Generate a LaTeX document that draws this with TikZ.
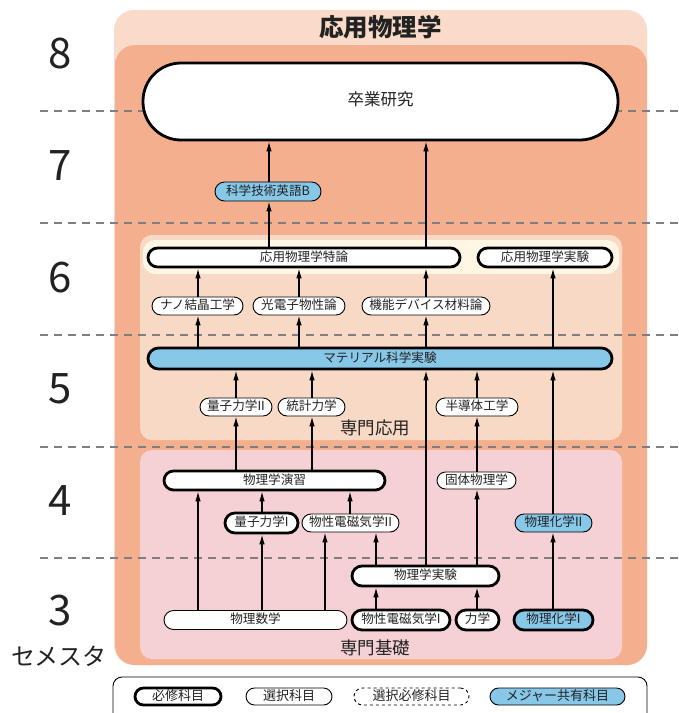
\documentclass[tikz,border=0pt]{standalone}
\usepackage{fontspec}
\setmainfont{Noto Sans CJK JP}
\usetikzlibrary{arrows.meta}
\definecolor{outerbg}{HTML}{FADAC8}
\definecolor{salmon}{HTML}{F4B08E}
\definecolor{applbg}{HTML}{F8D9C5}
\definecolor{creambg}{HTML}{FFF7E4}
\definecolor{basebg}{HTML}{F5D0D5}
\definecolor{sharedblue}{HTML}{87C7E8}
\definecolor{semgray}{HTML}{7F7F7F}
\definecolor{ink}{HTML}{222222}
\tikzset{
  course/.style={draw=black, rectangle, inner sep=0pt, fill=white, text=ink,
    font=\fontsize{12.6}{12.6}\selectfont, text height=0.75em, text depth=0.05em,
    minimum height=19pt, rounded corners=9.5pt},
  req/.style={course, line width=2.8pt},
  opt/.style={course, line width=0.9pt},
  shared/.style={fill=sharedblue},
  arr/.style={-{Latex[length=10pt,width=5.5pt]}, line width=1.2pt},
  semline/.style={draw=semgray, line width=1.8pt, dash pattern=on 8pt off 6pt},
  semnum/.style={font=\fontsize{42}{42}\selectfont, text=ink, inner sep=0pt},
  arealabel/.style={font=\fontsize{17.5}{17.5}\selectfont, text=ink, inner sep=0pt},
}
\begin{document}
\begin{tikzpicture}[x=1pt, y=-1pt]
\useasboundingbox (0,0) rectangle (679,713);
% backgrounds
\fill[outerbg, rounded corners=20pt] (114,10) rectangle (647,665);
\fill[salmon, rounded corners=20pt] (115,45) rectangle (647,665);
\fill[applbg, rounded corners=12pt] (140,235) rectangle (622,440);
\fill[creambg, rounded corners=12pt] (143,240) rectangle (619,274);
\fill[basebg, rounded corners=12pt] (140,450) rectangle (622,659);
\node[font=\fontsize{24.5}{24.5}\selectfont\bfseries, text=ink, inner sep=0pt] (title) at (380.5,27) {応用物理学};
\node[arealabel] (applab) at (375,428) {専門応用};
\node[arealabel] (baselab) at (375,648) {専門基礎};
% semester labels
\node[semnum] (s8) at (60,54) {8};
\node[semnum] (s7) at (60,166) {7};
\node[semnum] (s6) at (60,278) {6};
\node[semnum] (s5) at (60,389) {5};
\node[semnum] (s4) at (60,501) {4};
\node[semnum] (s3) at (60,611) {3};
\node[font=\fontsize{24}{24}\selectfont, text=ink, inner sep=0pt] (semlab) at (59,656) {セメスタ};
% semester dividers
\foreach \yy/\nm in {111/d1,223/d2,335/d3,447/d4,558/d5}{
  \coordinate (\nm a) at (40,\yy);
  \coordinate (\nm b) at (679,\yy);
  \draw[semline] (\nm a) -- (\nm b);
}
% column coordinates
\foreach \xx in {198,236,262,269,299,312,325,350,376,426,477,553}{
  \coordinate (x\xx) at (\xx,0);
}
% nodes
\node[req, minimum width=475pt, minimum height=77pt, rounded corners=38pt, font=\fontsize{16.5}{16.5}\selectfont] (sotsu) at (380.5,101.5) {卒業研究};
\node[opt, shared, minimum width=106pt] (eigo) at (268,191.5) {科学技術英語B};
\node[req, minimum width=312pt] (tokuron) at (304,257.5) {応用物理学特論};
\node[req, minimum width=134pt] (jikken6) at (545,257.5) {応用物理学実験};
\node[opt, minimum width=91pt, minimum height=18pt, rounded corners=9pt] (nano) at (197.5,306) {ナノ結晶工学};
\node[opt, minimum width=92pt, minimum height=18pt, rounded corners=9pt] (hikari) at (299,306) {光電子物性論};
\node[opt, minimum width=128pt, minimum height=18pt, rounded corners=9pt] (kinou) at (426,306) {機能デバイス材料論};
\node[req, shared, minimum width=464pt, minimum height=21pt, rounded corners=10.5pt] (material) at (380,358.5) {マテリアル科学実験};
\node[opt, minimum width=72pt, minimum height=18pt, rounded corners=9pt] (ryoshi2) at (236,407) {量子力学II};
\node[opt, minimum width=67pt, minimum height=18pt, rounded corners=9pt] (toukei) at (311.5,407) {統計力学};
\node[opt, minimum width=82pt, minimum height=18pt, rounded corners=9pt] (handou) at (477,407) {半導体工学};
\node[req, minimum width=221pt] (enshu) at (274.5,480.5) {物理学演習};
\node[opt, minimum width=79pt, minimum height=17pt, rounded corners=8.5pt] (kotai) at (476.5,480.5) {固体物理学};
\node[req, minimum width=73pt, minimum height=20pt, rounded corners=10pt] (ryoshi1) at (261.5,523) {量子力学I};
\node[opt, minimum width=97pt, minimum height=18pt, rounded corners=9pt] (denji2) at (350.5,523) {物性電磁気学II};
\node[opt, shared, minimum width=77pt, minimum height=18pt, rounded corners=9pt] (kagaku2) at (553.5,523) {物理化学II};
\node[req, minimum width=147pt, minimum height=20pt, rounded corners=10pt] (bjikken) at (425.5,576) {物理学実験};
\node[opt, minimum width=183pt] (suugaku) at (255.5,620) {物理数学};
\node[req, minimum width=98pt, minimum height=20pt, rounded corners=10pt] (denji1) at (401,620) {物性電磁気学I};
\node[req, minimum width=43pt, minimum height=20pt, rounded corners=10pt] (rikigaku) at (477.5,620) {力学};
\node[req, shared, minimum width=79pt, minimum height=20pt, rounded corners=10pt] (kagaku1) at (553.5,620) {物理化学I};
% arrows
\draw[arr] (eigo.north -| x269) -- (sotsu.south -| x269);
\draw[arr] (tokuron.north -| x269) -- (eigo.south -| x269);
\draw[arr] (tokuron.north -| x426) -- (sotsu.south -| x426);
\draw[arr] (nano.north -| x198) -- (tokuron.south -| x198);
\draw[arr] (hikari.north -| x299) -- (tokuron.south -| x299);
\draw[arr] (kinou.north -| x426) -- (tokuron.south -| x426);
\draw[arr] (material.north -| x198) -- (nano.south -| x198);
\draw[arr] (material.north -| x299) -- (hikari.south -| x299);
\draw[arr] (material.north -| x426) -- (kinou.south -| x426);
\draw[arr] (material.north -| x553) -- (jikken6.south -| x553);
\draw[arr] (ryoshi2.north -| x236) -- (material.south -| x236);
\draw[arr] (toukei.north -| x312) -- (material.south -| x312);
\draw[arr] (bjikken.north -| x426) -- (material.south -| x426);
\draw[arr] (handou.north -| x477) -- (material.south -| x477);
\draw[arr] (kagaku2.north -| x553) -- (material.south -| x553);
\draw[arr] (enshu.north -| x236) -- (ryoshi2.south -| x236);
\draw[arr] (enshu.north -| x312) -- (toukei.south -| x312);
\draw[arr] (kotai.north -| x477) -- (handou.south -| x477);
\draw[arr] (suugaku.north -| x198) -- (enshu.south -| x198);
\draw[arr] (ryoshi1.north -| x262) -- (enshu.south -| x262);
\draw[arr] (denji2.north -| x350) -- (enshu.south -| x350);
\draw[arr] (suugaku.north -| x262) -- (ryoshi1.south -| x262);
\draw[arr] (suugaku.north -| x325) -- (denji2.south -| x325);
\draw[arr] (bjikken.north -| x376) -- (denji2.south -| x376);
\draw[arr] (bjikken.north -| x477) -- (kotai.south -| x477);
\draw[arr] (denji1.north -| x376) -- (bjikken.south -| x376);
\draw[arr] (rikigaku.north -| x477) -- (bjikken.south -| x477);
\draw[arr] (kagaku1.north -| x553) -- (kagaku2.south -| x553);
% legend
\draw[line width=0.9pt, rounded corners=9pt] (113,725) -- (113,677) -- (647,677) -- (647,725);
\node[req, minimum width=86pt, minimum height=17pt, rounded corners=8.5pt, font=\fontsize{13}{13}\selectfont] (lreq) at (178,696.5) {必修科目};
\node[opt, minimum width=86pt, minimum height=17pt, rounded corners=8.5pt, font=\fontsize{13}{13}\selectfont] (lopt) at (289,696.5) {選択科目};
\node[opt, dashed, minimum width=115pt, minimum height=17pt, rounded corners=8.5pt, font=\fontsize{13}{13}\selectfont] (lsel) at (411.5,696.5) {選択必修科目};
\node[opt, shared, minimum width=135pt, minimum height=17pt, rounded corners=8.5pt, font=\fontsize{13}{13}\selectfont] (lshared) at (557.5,696.5) {メジャー共有科目};
\end{tikzpicture}
\end{document}
